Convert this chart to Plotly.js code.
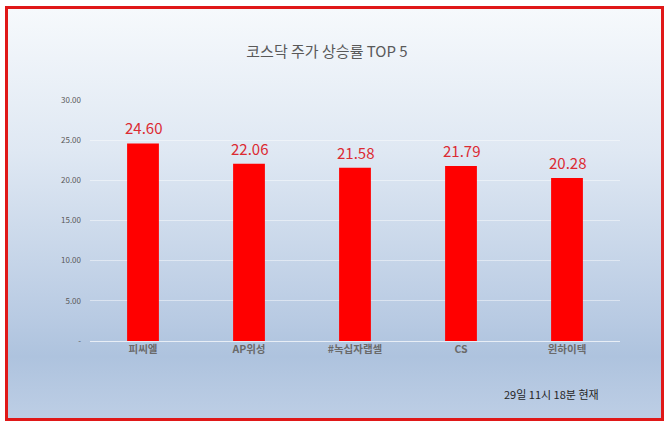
<!DOCTYPE html>
<html>
<head>
<meta charset="utf-8">
<script src="https://cdn.plot.ly/plotly-3.0.1.min.js"></script>
<style>
  html, body { margin: 0; padding: 0; background: #ffffff; width: 670px; height: 427px; overflow: hidden; }
  #bg { position: absolute; left: 5px; top: 6px; width: 659px; height: 415px; box-sizing: border-box;
        border: 3px solid #e01818;
        background: linear-gradient(to bottom, #f6f9fc 0%, #dfe8f3 35%, #b9cbe3 75%, #aec3de 85%, #bdcee5 100%); }
  #chart { position: absolute; left: 0; top: 0; width: 670px; height: 427px; }
</style>
</head>
<body>
<div id="bg"></div>
<div id="chart"></div>
<script>
const categories = ["피씨엘", "AP위성", "#녹십자랩셀", "CS", "윈하이텍"];
const values = [24.60, 22.06, 21.58, 21.79, 20.28];
const yTickVals = [0, 5, 10, 15, 20, 25, 30];
const yTickText = ["-", "5.00", "10.00", "15.00", "20.00", "25.00", "30.00"];
const titleText = "코스닥 주가 상승률 TOP 5";
const noteText = "29일 11시 18분 현재";

const FONT = "'Noto Sans CJK KR', 'Noto Sans', sans-serif";
const PL = 90, PW = 530;

const trace = {
  type: "bar",
  x: categories,
  y: values,
  marker: { color: "#ff0000" },
  hoverinfo: "none"
};

const annotations = categories.map((c, i) => ({
  x: c, y: values[i], xref: "x", yref: "y",
  text: values[i].toFixed(2),
  showarrow: false, yanchor: "bottom", yshift: 3,
  font: { family: FONT, size: 15, color: "#dc2a32" }
}));
annotations.push({
  xref: "paper", yref: "paper", x: (601 - PL) / PW, y: 0,
  xanchor: "right", yanchor: "middle", yshift: -(394 - 341),
  text: noteText, showarrow: false,
  font: { family: FONT, size: 11, color: "#262626" }
});

const layout = {
  width: 670, height: 427,
  margin: { l: PL, r: 670 - PL - PW, t: 100, b: 86 },
  paper_bgcolor: "rgba(0,0,0,0)",
  plot_bgcolor: "rgba(0,0,0,0)",
  showlegend: false,
  bargap: 0.70,
  title: {
    text: titleText, x: 327 / 670, xref: "container", xanchor: "center",
    y: 1 - 52 / 427, yanchor: "middle", yref: "container",
    font: { family: FONT, size: 15, color: "#595959" }
  },
  xaxis: {
    showline: false, showgrid: false, zeroline: false, ticks: "",
    tickfont: { family: FONT, size: 10.5, color: "#6a6a6a", weight: "bold" },
    fixedrange: true
  },
  yaxis: {
    range: [0, 30],
    tickvals: yTickVals, ticktext: yTickText,
    showgrid: true, gridcolor: "rgba(255,255,255,0.45)", gridwidth: 1,
    zeroline: true, zerolinecolor: "rgba(255,255,255,0.7)", zerolinewidth: 1,
    showline: false, ticks: "",
    ticklabelstandoff: 8,
    tickfont: { family: FONT, size: 8, color: "#595959" },
    fixedrange: true
  },
  annotations: annotations
};

Plotly.newPlot("chart", [trace], layout, { displayModeBar: false, staticPlot: true });
</script>
</body>
</html>
